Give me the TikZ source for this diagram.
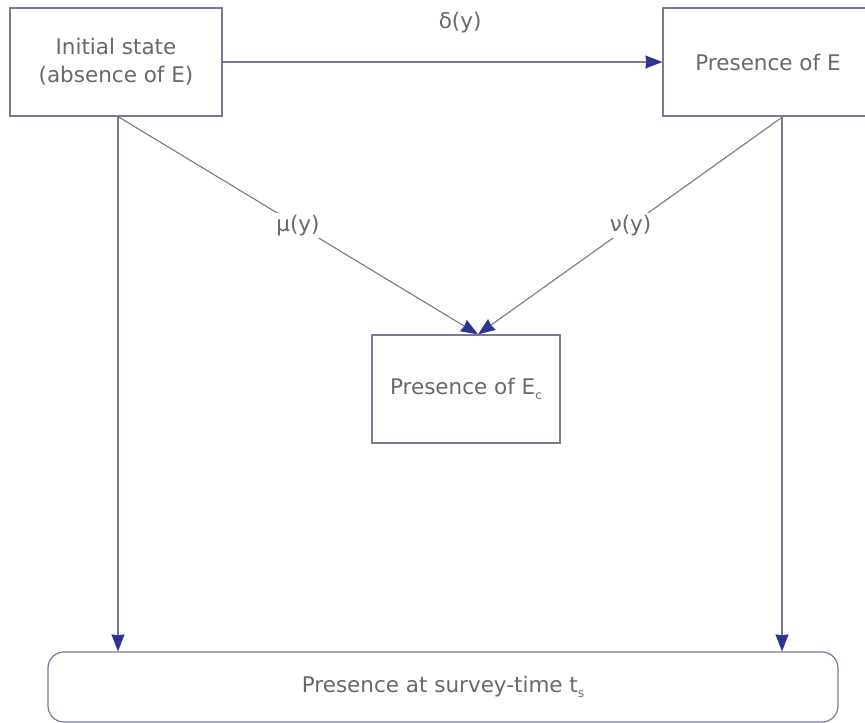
\documentclass[tikz,border=0pt]{standalone}
\usepackage{fontspec}
\setmainfont{DejaVu Sans}
\usetikzlibrary{arrows.meta}

\definecolor{statesframe}{RGB}{122,122,150}
\definecolor{statesline}{RGB}{120,120,140}
\definecolor{statestip}{RGB}{46,52,146}
\definecolor{statestext}{RGB}{104,104,104}

\newcommand\substate[1]{\raisebox{-5pt}{\fontsize{12}{12}\selectfont #1}}

\begin{document}
\begin{tikzpicture}[x=1pt,y=-1pt,font=\fontsize{21.5}{28}\selectfont,
    >={Stealth[length=17pt,width=13pt,inset=1pt,color=statestip]},
    statebox/.style={draw=statesframe,line width=1.2pt,text=statestext,
      align=center,inner sep=0pt},
    flow/.style={->,draw=statesline,line width=1.1pt},
    rate/.style={fill=white,text=statestext,inner sep=2pt}]
    \useasboundingbox (0,0) rectangle (865,723);
    \node[statebox,minimum width=212pt,minimum height=108pt] (init) at (116,62)
      {Initial state\\(absence of E)};
    \node[statebox,minimum width=210pt,minimum height=108pt] (pres) at (768,62)
      {Presence of E};
    \node[statebox,minimum width=188pt,minimum height=108pt] (cons) at (466,389)
      {Presence of E\substate{c}};
    \node[statebox,rounded corners=16pt,minimum width=790pt,minimum height=70pt]
      (survey) at (443,687)
      {Presence at survey-time t\substate{s}};
    \draw[flow] (init) -- node[rate,pos=0.54,above=26pt] {δ(y)} (pres);
    \draw[flow] ([xshift=2pt]init.south) -- node[rate,pos=0.5] {μ(y)}
      ([xshift=12pt]cons.north);
    \draw[flow] ([xshift=15pt]pres.south) -- node[rate,pos=0.5] {ν(y)}
      ([xshift=12pt]cons.north);
    \draw[flow] ([xshift=2pt]init.south) -- ([xshift=2pt]init.south |- survey.north);
    \draw[flow] ([xshift=14pt]pres.south) -- ([xshift=14pt]pres.south |- survey.north);
  \end{tikzpicture}
\end{document}
